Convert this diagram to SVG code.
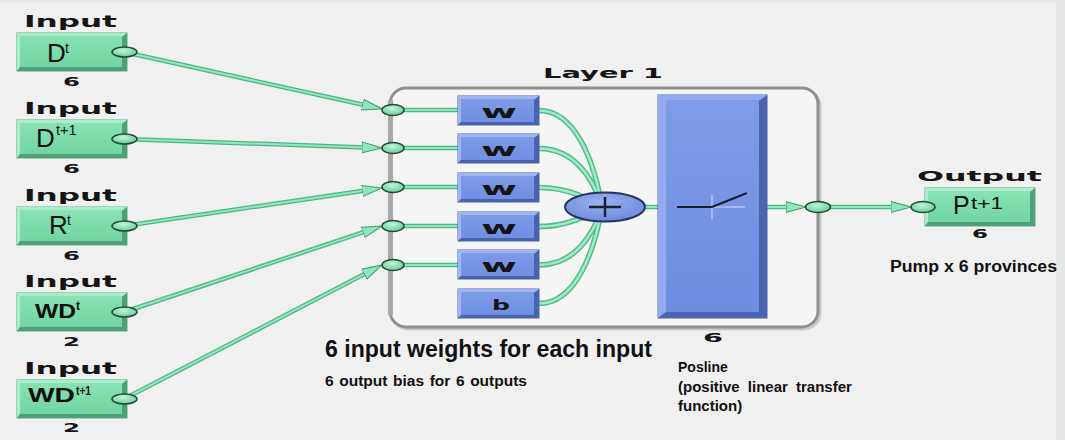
<svg xmlns="http://www.w3.org/2000/svg" width="1065" height="440" viewBox="0 0 1065 440">
<defs>
  <linearGradient id="gIn" x1="0" y1="0" x2="0" y2="1">
    <stop offset="0" stop-color="#8be3b5"/><stop offset="1" stop-color="#6fd3a0"/>
  </linearGradient>
  <radialGradient id="gPort" cx="0.45" cy="0.35" r="0.75">
    <stop offset="0" stop-color="#bff5da"/><stop offset="1" stop-color="#5ec592"/>
  </radialGradient>
  <linearGradient id="gBlue" x1="0" y1="0" x2="0" y2="1">
    <stop offset="0" stop-color="#7f9ce8"/><stop offset="1" stop-color="#6e8de0"/>
  </linearGradient>
  <radialGradient id="gSum" cx="0.45" cy="0.35" r="0.75">
    <stop offset="0" stop-color="#9bb2f0"/><stop offset="1" stop-color="#6683d8"/>
  </radialGradient>
  <g id="greenBox">
    <rect x="0" y="0" width="110" height="38" fill="url(#gIn)" stroke="#5aa983" stroke-width="1"/>
    <path d="M0,0 H110 L106,3 H3 V34 L0,38 Z" fill="#a9eecb"/>
    <path d="M110,0 V38 H0 L3,34 H105 V4 Z" fill="#4f9f79"/>
  </g>
  <g id="wBox">
    <rect x="0" y="0" width="81" height="29" fill="url(#gBlue)" stroke="#4a62ac" stroke-width="1"/>
    <path d="M0,0 H81 L77,3 H3 V26 L0,29 Z" fill="#a0b5f1"/>
    <path d="M81,0 V29 H0 L3,26 H76 V4 Z" fill="#4a63ad"/>
  </g>
  <marker id="arr" markerUnits="userSpaceOnUse" markerWidth="24" markerHeight="14" refX="10" refY="7" orient="auto">
    <path d="M0,1.5 L20,7 L0,12.5 Z" fill="#8fe6bd" stroke="#3d9b6e" stroke-width="1"/>
  </marker>
</defs>
<style>
  .lbl{font-family:"DejaVu Sans",sans-serif;font-weight:bold;fill:#151515}
  .sans{font-family:"Liberation Sans",Arial,sans-serif;fill:#111}
  .bd{font-weight:bold}
  .port{fill:url(#gPort);stroke:#1f4a34;stroke-width:1.5}
  .wo{fill:none;stroke:#4eb584;stroke-width:4.5}
  .wi{fill:none;stroke:#93e7bf;stroke-width:2}
  .co{fill:none;stroke:#55bb89;stroke-width:5.5}
  .ci{fill:none;stroke:#a2ebc7;stroke-width:2.5}
</style>

<rect x="0" y="0" width="1065" height="440" fill="#f0f0f0"/>
<rect x="0" y="0" width="1065" height="3" fill="#e5e8e5"/>
<rect x="1056" y="0" width="9" height="440" fill="#e5e8e5"/>

<!-- Layer 1 container -->
<g id="layer1">
  <text class="lbl" x="543" y="78" font-size="14" textLength="120" lengthAdjust="spacingAndGlyphs">Layer 1</text>
  <rect x="392" y="90" width="428" height="239" rx="16" fill="none" stroke="#c9c9c9" stroke-width="3"/>
  <rect x="390" y="88" width="428" height="239" rx="16" fill="#f5f5f5" stroke="#8f8f8f" stroke-width="3"/>
  <rect x="388" y="100" width="5" height="215" fill="#a8a8a8"/>
  <text class="lbl" x="703" y="342" font-size="12" textLength="20" lengthAdjust="spacingAndGlyphs">6</text>
</g>

<!-- connectors -->
<g id="connectors">
  <path class="wo" d="M124,52 L372.2,106.8"/>
  <path class="wi" d="M124,52 L372.2,106.8" marker-end="url(#arr)"/>
  <path class="wo" d="M124,139 L372,147.7"/>
  <path class="wi" d="M124,139 L372,147.7" marker-end="url(#arr)"/>
  <path class="wo" d="M124,226 L372.1,189.5"/>
  <path class="wi" d="M124,226 L372.1,189.5" marker-end="url(#arr)"/>
  <path class="wo" d="M124,312 L372.5,229.2"/>
  <path class="wi" d="M124,312 L372.5,229.2" marker-end="url(#arr)"/>
  <path class="wo" d="M124,399 L373.1,269.6"/>
  <path class="wi" d="M124,399 L373.1,269.6" marker-end="url(#arr)"/>

  <path class="wo" d="M393,110 H458 M393,148 H458 M393,187 H458 M393,226 H458 M393,265 H458" stroke-width="3.5"/>
  <path class="wi" d="M393,110 H458 M393,148 H458 M393,187 H458 M393,226 H458 M393,265 H458" stroke-width="1.8"/>

  <path class="co" d="M539,110.5 C575,110.5 594,160 602,207 M539,148.5 C575,148.5 594,180 602,207 M539,187.5 C570,187.5 590,200 602,207 M539,226.5 C570,226.5 590,214 602,207 M539,265 C575,265 594,234 602,207 M539,303.5 C575,303.5 594,254 602,207"/>
  <path class="ci" d="M539,110.5 C575,110.5 594,160 602,207 M539,148.5 C575,148.5 594,180 602,207 M539,187.5 C570,187.5 590,200 602,207 M539,226.5 C570,226.5 590,214 602,207 M539,265 C575,265 594,234 602,207 M539,303.5 C575,303.5 594,254 602,207"/>

  <path class="wo" d="M645,207 H658" stroke-width="3.5"/>
  <path class="wi" d="M645,207 H658" stroke-width="1.8"/>
  <path class="wo" d="M767,207 H796" stroke-width="3.5"/>
  <path class="wi" d="M767,207 H796" stroke-width="1.8" marker-end="url(#arr)"/>
  <path class="wo" d="M818,207 H901" stroke-width="3.5"/>
  <path class="wi" d="M818,207 H901" stroke-width="1.8" marker-end="url(#arr)"/>
</g>

<!-- layer input ports -->
<g id="layerPorts">
  <ellipse class="port" cx="393" cy="110" rx="11" ry="5.5"/>
  <ellipse class="port" cx="393" cy="148" rx="11" ry="5.5"/>
  <ellipse class="port" cx="393" cy="187" rx="11" ry="5.5"/>
  <ellipse class="port" cx="393" cy="226" rx="11" ry="5.5"/>
  <ellipse class="port" cx="393" cy="265" rx="11" ry="5.5"/>
  <ellipse class="port" cx="818" cy="207" rx="12.5" ry="5.5"/>
</g>

<!-- inputs -->
<g id="in1">
  <text class="lbl" x="24" y="27" font-size="15" textLength="93" lengthAdjust="spacingAndGlyphs">Input</text>
  <use href="#greenBox" x="17" y="33"/>
  <text class="sans" x="47" y="62" font-size="26">D</text>
  <text class="sans" x="65" y="53" font-size="14">t</text>
  <ellipse class="port" cx="124.5" cy="52" rx="12.5" ry="5"/>
  <text class="lbl" x="63" y="86" font-size="12" textLength="17" lengthAdjust="spacingAndGlyphs">6</text>
</g>
<g id="in2">
  <text class="lbl" x="24" y="114" font-size="15" textLength="93" lengthAdjust="spacingAndGlyphs">Input</text>
  <use href="#greenBox" x="17" y="120"/>
  <text class="sans" x="36" y="147" font-size="26">D</text>
  <text class="sans" x="56" y="135" font-size="14.5">t+1</text>
  <ellipse class="port" cx="124.5" cy="139" rx="12.5" ry="5"/>
  <text class="lbl" x="63" y="173" font-size="12" textLength="17" lengthAdjust="spacingAndGlyphs">6</text>
</g>
<g id="in3">
  <text class="lbl" x="24" y="201" font-size="15" textLength="93" lengthAdjust="spacingAndGlyphs">Input</text>
  <use href="#greenBox" x="17" y="207"/>
  <text class="sans" x="49" y="234" font-size="26">R</text>
  <text class="sans" x="67" y="225" font-size="14">t</text>
  <ellipse class="port" cx="124.5" cy="226" rx="12.5" ry="5"/>
  <text class="lbl" x="63" y="260" font-size="12" textLength="17" lengthAdjust="spacingAndGlyphs">6</text>
</g>
<g id="in4">
  <text class="lbl" x="24" y="287" font-size="15" textLength="93" lengthAdjust="spacingAndGlyphs">Input</text>
  <use href="#greenBox" x="17" y="293"/>
  <text class="sans bd" x="35" y="318" font-size="21" textLength="41" lengthAdjust="spacingAndGlyphs">WD</text>
  <text class="sans bd" x="76" y="310" font-size="12">t</text>
  <ellipse class="port" cx="124.5" cy="312" rx="12.5" ry="5"/>
  <text class="lbl" x="63" y="346" font-size="12" textLength="17" lengthAdjust="spacingAndGlyphs">2</text>
</g>
<g id="in5">
  <text class="lbl" x="24" y="374" font-size="15" textLength="93" lengthAdjust="spacingAndGlyphs">Input</text>
  <use href="#greenBox" x="17" y="380"/>
  <text class="sans bd" x="28" y="402" font-size="21" textLength="47" lengthAdjust="spacingAndGlyphs">WD</text>
  <text class="sans bd" x="76" y="395" font-size="13" textLength="15" lengthAdjust="spacingAndGlyphs">t+1</text>
  <ellipse class="port" cx="124.5" cy="399" rx="12.5" ry="5"/>
  <text class="lbl" x="63" y="432" font-size="12" textLength="17" lengthAdjust="spacingAndGlyphs">2</text>
</g>

<!-- weight boxes -->
<g id="w1"><use href="#wBox" x="458" y="96"/><text class="lbl" x="481" y="118" font-size="17" textLength="36" lengthAdjust="spacingAndGlyphs">w</text></g>
<g id="w2"><use href="#wBox" x="458" y="134"/><text class="lbl" x="481" y="156" font-size="17" textLength="36" lengthAdjust="spacingAndGlyphs">w</text></g>
<g id="w3"><use href="#wBox" x="458" y="173"/><text class="lbl" x="481" y="195" font-size="17" textLength="36" lengthAdjust="spacingAndGlyphs">w</text></g>
<g id="w4"><use href="#wBox" x="458" y="212"/><text class="lbl" x="481" y="234" font-size="17" textLength="36" lengthAdjust="spacingAndGlyphs">w</text></g>
<g id="w5"><use href="#wBox" x="458" y="250"/><text class="lbl" x="481" y="272" font-size="17" textLength="36" lengthAdjust="spacingAndGlyphs">w</text></g>
<g id="bias"><use href="#wBox" x="458" y="289"/><text class="lbl" x="492" y="310" font-size="14" textLength="18" lengthAdjust="spacingAndGlyphs">b</text></g>

<!-- summation -->
<g id="sum">
  <ellipse cx="605" cy="207" rx="40" ry="14.5" fill="url(#gSum)" stroke="#26355f" stroke-width="2"/>
  <path d="M589,207 H621 M605,197 V217" stroke="#1e2230" stroke-width="2.5"/>
</g>

<!-- transfer function -->
<g id="transfer">
  <rect x="658" y="95" width="109" height="223" fill="url(#gBlue)" stroke="#4a62ac" stroke-width="1"/>
  <path d="M658,95 H767 L760,100 H666 V312 L658,318 Z" fill="#93aaee"/>
  <path d="M767,95 V318 H658 L666,312 H759 V101 Z" fill="#4b64ae"/>
  <path d="M712,195 V219 M712,207 H745" stroke="#b3c4f4" stroke-width="1.5"/>
  <path d="M677,207 H712 L747,193" fill="none" stroke="#1a1d2c" stroke-width="2"/>
</g>

<!-- output -->
<g id="out">
  <text class="lbl" x="917" y="181" font-size="14" textLength="125" lengthAdjust="spacingAndGlyphs">Output</text>
  <use href="#greenBox" x="925" y="188"/>
  <text class="sans" x="953" y="214" font-size="25">P</text>
  <text class="sans" x="971" y="209" font-size="17" textLength="32" lengthAdjust="spacingAndGlyphs">t+1</text>
  <ellipse class="port" cx="923" cy="207" rx="12" ry="5.5"/>
  <text class="lbl" x="972" y="238" font-size="12" textLength="16" lengthAdjust="spacingAndGlyphs">6</text>
  <text class="sans bd" x="890" y="272" font-size="16" textLength="167" lengthAdjust="spacingAndGlyphs">Pump x 6 provinces</text>
</g>

<!-- annotations -->
<g id="notes">
  <text class="sans bd" x="325" y="357" font-size="23" textLength="327" lengthAdjust="spacingAndGlyphs">6 input weights for each input</text>
  <text class="sans bd" x="325" y="386" font-size="15.5" word-spacing="1.3">6 output bias for 6 outputs</text>
  <text class="sans bd" x="678" y="372" font-size="14">Posline</text>
  <text class="sans bd" x="678" y="392" font-size="15" word-spacing="4">(positive linear transfer</text>
  <text class="sans bd" x="678" y="411" font-size="15">function)</text>
</g>
</svg>
